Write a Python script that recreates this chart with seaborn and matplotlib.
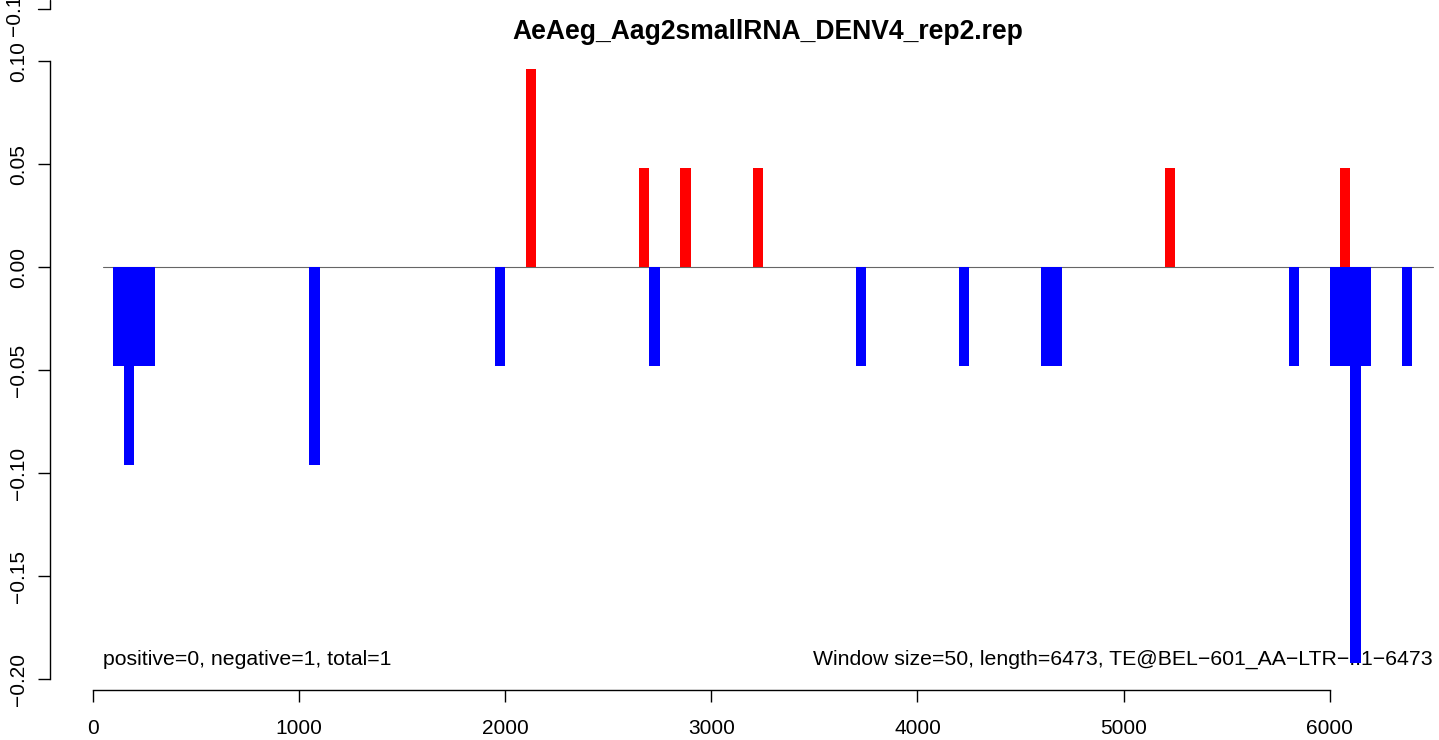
import numpy as np
import pandas as pd
import seaborn as sns
import matplotlib
matplotlib.use("Agg")
import matplotlib.pyplot as plt
from matplotlib.lines import Line2D

# ---- data (bin starts, window = 50) ----
title = "AeAeg_Aag2smallRNA_DENV4_rep2.rep"
window = 50
pos_starts = [2100, 2650, 2850, 3200, 5200, 6050]
pos_values = [0.0962, 0.0481, 0.0481, 0.0481, 0.0481, 0.0481]
neg_starts = [100, 150, 200, 250, 1050, 1950, 2700, 3700, 4200, 4600, 4650,
              5800, 6000, 6050, 6100, 6150, 6350]
neg_values = [-0.0481, -0.0962, -0.0481, -0.0481, -0.0962, -0.0481, -0.0481,
              -0.0481, -0.0481, -0.0481, -0.0481, -0.0481, -0.0481, -0.0481,
              -0.1924, -0.0481, -0.0481]
x_ticks = [0, 1000, 2000, 3000, 4000, 5000, 6000]
y_ticks = [-0.20, -0.15, -0.10, -0.05, 0.00, 0.05, 0.10]
left_note = "positive=0, negative=1, total=1"
right_note = "Window size=50, length=6473, TE@BEL\u2212601_AA\u2212LTR\u2212I:1\u22126473"

sns.set_style("white")
plt.rcParams["font.family"] = ["Liberation Sans", "DejaVu Sans"]
plt.rcParams["text.color"] = "black"

FS = 15.0
NOTE_FS = 15.3
W, H = 1439, 740
fig = plt.figure(figsize=(W / 100, H / 100), dpi=100)
# plot region in pixels: left 50, right 1486, top 45, bottom 690
L, R, T, B = 50, 1486, 45, 690
ax = fig.add_axes([L / W, 1 - B / H, (R - L) / W, (B - T) / H])
ax.set_xlim(-208, 6758)
ax.set_ylim(-0.2053, 0.1078)

pos_df = pd.DataFrame({"x": np.array(pos_starts) + window / 2, "w": pos_values})
neg_df = pd.DataFrame({"x": np.array(neg_starts) + window / 2, "w": neg_values})

# notes drawn first (bars overlay them)
ax.text(50, -0.1905, left_note, ha="left", va="center", fontsize=NOTE_FS, color="black", zorder=0)
ax.text(6500, -0.1905, right_note, ha="right", va="center", fontsize=NOTE_FS, color="black", zorder=0)

sns.histplot(data=pos_df, x="x", weights="w", binwidth=window, binrange=(0, 6500),
             color="#FF0000", alpha=1, linewidth=0, edgecolor="none", ax=ax, zorder=2)
sns.histplot(data=neg_df, x="x", weights="w", binwidth=window, binrange=(0, 6500),
             color="#0000FF", alpha=1, linewidth=0, edgecolor="none", ax=ax, zorder=2)

ax.plot([50, 6500], [0, 0], color="#666666", lw=0.8, zorder=1.5)

ax.set_xlim(-208, 6758)
ax.set_ylim(-0.2053, 0.1078)
ax.set_xlabel("")
ax.set_ylabel("")
ax.set_title(title, fontsize=19.1, fontweight="bold", pad=4, color="black")

for s in ["top", "right"]:
    ax.spines[s].set_visible(False)
for s in ["left", "bottom"]:
    ax.spines[s].set_color("black")
    ax.spines[s].set_linewidth(1.0)
ax.spines["left"].set_bounds(-0.20, 0.10)
ax.spines["bottom"].set_bounds(0, 6000)

ax.set_xticks(x_ticks)
ax.set_xticklabels([str(t) for t in x_ticks])
ax.set_yticks(y_ticks)
ax.set_yticklabels([f"{t:.2f}".replace("-", "\u2212") for t in y_ticks],
                   rotation=90, va="center")
ax.tick_params(axis="both", direction="out", length=8.6, width=1.0, color="black",
               labelsize=FS, labelcolor="black", bottom=True, left=True)
ax.tick_params(axis="x", pad=12)
ax.tick_params(axis="y", pad=7)

# remnant of an axis from a panel above (cropped)
fig.add_artist(Line2D([L / W, L / W], [1.0, 1 - 9 / H], transform=fig.transFigure,
                      color="black", lw=1.0))
fig.add_artist(Line2D([38 / W, L / W], [1 - 9 / H, 1 - 9 / H], transform=fig.transFigure,
                      color="black", lw=1.0))
fig.text(15 / W, 1 - 9 / H, "\u22120.15", rotation=90, ha="center", va="center",
         fontsize=FS, color="black")

fig.savefig("out.png", dpi=100)
